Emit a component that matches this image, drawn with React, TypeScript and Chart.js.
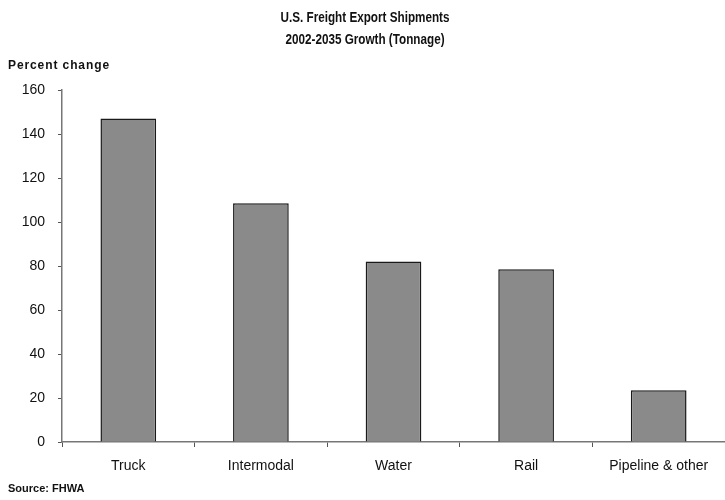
import React, { useEffect, useRef } from "react";
import { Chart, registerables } from "chart.js";

Chart.register(...registerables);

const categories = ["Truck", "Intermodal", "Water", "Rail", "Pipeline & other"];
const growth = [147, 108.5, 82, 78.5, 23.5];
const titleLines = ["U.S. Freight Export Shipments", "2002-2035 Growth (Tonnage)"];
const yAxisLabel = "Percent change";
const sourceNote = "Source: FHWA";

const FONT = "'Liberation Sans', Arial, sans-serif";

const textPlugin = {
  id: "textPlugin",
  afterDraw(chart: any) {
    const ctx = chart.ctx;
    ctx.save();
    ctx.fillStyle = "#111";
    ctx.textBaseline = "middle";
    ctx.textAlign = "center";
    ctx.font = "bold 15px " + FONT;
    const drawNarrow = (t: string, x: number, y: number) => {
      ctx.save();
      ctx.translate(x, y);
      ctx.scale(0.78, 1);
      ctx.fillText(t, 0, 0);
      ctx.restore();
    };
    drawNarrow(titleLines[0], 365, 18);
    drawNarrow(titleLines[1], 365, 40);
    ctx.textAlign = "left";
    ctx.font = "bold 12px " + FONT;
    (ctx as any).letterSpacing = "0.9px";
    ctx.fillText(yAxisLabel, 8, 66);
    ctx.font = "bold 11px " + FONT;
    (ctx as any).letterSpacing = "0px";
    ctx.fillText(sourceNote, 8, 489);
    ctx.restore();
  },
};

export default function App() {
  const ref = useRef<HTMLCanvasElement>(null);
  useEffect(() => {
    const chart = new Chart(ref.current as HTMLCanvasElement, {
      type: "bar",
      data: {
        labels: categories,
        datasets: [
          {
            data: growth,
            backgroundColor: "#8a8a8a",
            borderColor: "#1a1a1a",
            borderWidth: 1.5,
            barPercentage: 0.42,
            categoryPercentage: 1,
          },
        ],
      },
      options: {
        animation: false,
        responsive: true,
        maintainAspectRatio: false,
        layout: { padding: { top: 90, left: 0, right: 0, bottom: 0 } },
        plugins: {
          legend: { display: false },
          title: { display: false },
          tooltip: { enabled: false },
        },
        scales: {
          x: {
            afterFit(scale: any) {
              scale.height = 58;
            },
            grid: {
              display: true,
              drawOnChartArea: false,
              offset: true,
              tickLength: 5,
              color: "#555",
            },
            border: { display: true, color: "#777", width: 1.5 },
            ticks: {
              color: "#111",
              padding: 11,
              font: { family: FONT, size: 14 },
            },
          },
          y: {
            min: 0,
            max: 160,
            afterFit(scale: any) {
              scale.width = 62;
            },
            ticks: {
              stepSize: 20,
              color: "#111",
              padding: 13,
              font: { family: FONT, size: 14 },
            },
            grid: {
              display: true,
              drawOnChartArea: false,
              tickLength: 4,
              color: "#555",
            },
            border: { display: true, color: "#777", width: 1.5 },
          },
        },
      },
      plugins: [textPlugin],
    });
    return () => chart.destroy();
  }, []);
  return (
    <div style={{ position: "fixed", left: 0, top: 0, width: 725, height: 500, background: "#fff" }}>
      <canvas ref={ref} />
    </div>
  );
}
